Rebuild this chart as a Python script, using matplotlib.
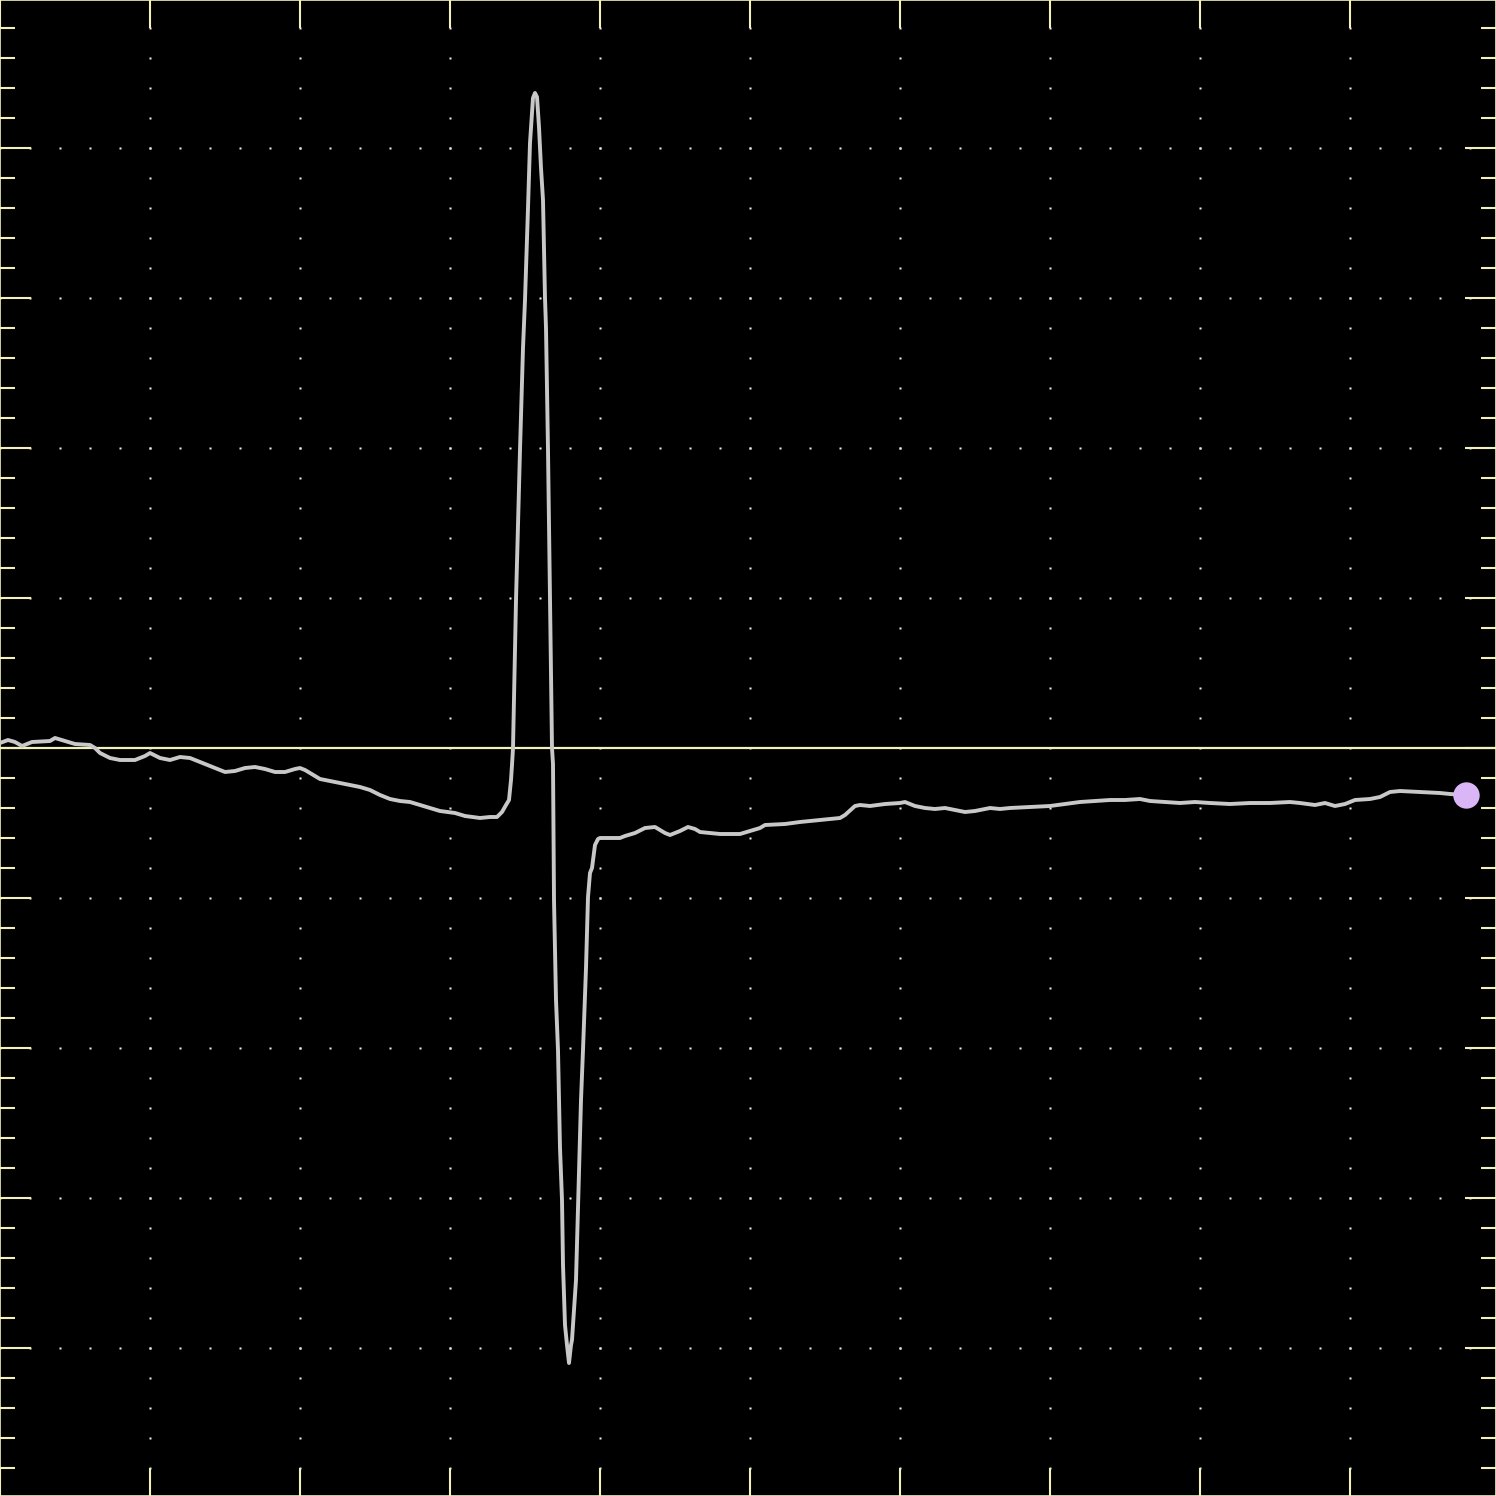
import matplotlib
matplotlib.use("Agg")
import matplotlib.pyplot as plt
import numpy as np
from matplotlib.ticker import MultipleLocator

# trace (time units, signal units; 150 units per division)
t = [0, 8, 15, 22, 32, 50, 55, 65, 75, 90, 95, 100, 110, 120, 135, 145, 150, 160, 170, 180,
     190, 200, 215, 225, 235, 245, 255, 265, 275, 285, 295, 300, 305, 315, 320, 330, 345, 360,
     370, 380, 390, 400, 410, 420, 430, 440, 455, 465, 480, 490, 497, 502, 506, 509, 511, 512,
     513, 516, 520, 523, 525, 528, 530, 533, 535, 537, 539, 541, 543, 545, 546, 548, 550, 552,
     553, 554, 556, 558, 560, 562, 563, 565, 567, 569, 571, 572, 573, 576, 578, 579, 581, 583,
     586, 588, 590, 592, 595, 598, 600, 620, 625, 635, 645, 655, 665, 670, 680, 688, 695, 700,
     710, 720, 740, 750, 760, 765, 785, 800, 810, 820, 840, 845, 855, 860, 870, 885, 900, 905,
     915, 925, 935, 945, 955, 965, 975, 990, 1000, 1010, 1030, 1050, 1065, 1080, 1095, 1110,
     1125, 1140, 1150, 1165, 1180, 1195, 1210, 1230, 1250, 1270, 1290, 1300, 1315, 1325, 1335,
     1345, 1355, 1370, 1380, 1390, 1400, 1420, 1440, 1450, 1466]
v = [5, 8, 6, 2, 6, 7, 10, 7, 4, 3, 0, -5, -10, -12, -12, -8, -5, -10, -12, -9,
     -10, -14, -20, -24, -23, -20, -19, -21, -24, -24, -21, -20, -22, -28, -31, -33, -36, -39,
     -42, -47, -51, -53, -54, -57, -60, -63, -65, -68, -70, -69, -69, -64, -57, -52, -32, -17,
     0, 148, 298, 400, 448, 540, 605, 650, 655, 651, 621, 580, 548, 450, 420, 298, 148, 0,
     -16, -152, -252, -302, -400, -452, -517, -577, -597, -615, -597, -592, -577, -532, -460, -420, -352, -302,
     -220, -149, -125, -120, -97, -91, -90, -90, -88, -85, -80, -79, -85, -87, -83, -79, -81, -84,
     -85, -86, -86, -83, -80, -77, -76, -74, -73, -72, -70, -67, -58, -57, -58, -56, -55, -54,
     -58, -60, -61, -60, -62, -64, -63, -60, -61, -60, -59, -58, -56, -54, -53, -52,
     -52, -51, -53, -54, -55, -54, -55, -56, -55, -55, -54, -55, -57, -55, -58,
     -56, -52, -51, -49, -44, -43, -44, -45, -46, -47]

fig = plt.figure(figsize=(14.96, 14.96), dpi=100, facecolor="black")
ax = fig.add_axes([0, 0, 1, 1])
ax.set_facecolor("black")
ax.set_xlim(0, 1496)
ax.set_ylim(-748, 748)

yellow = "#f4f0bc"

# dotted graticule: dots every minor step along every major line
div = 150
minor = 30
xs_major = np.arange(150, 1496, div)
ys_major = np.arange(-600, 601, div)
xs_minor = np.arange(0, 1496, minor)
ys_minor = np.arange(-720, 721, minor)
gx, gy = [], []
for xm in xs_major:
    for ym in ys_minor:
        gx.append(xm); gy.append(ym)
for ym in ys_major:
    if ym == 0:
        continue
    for xm in xs_minor:
        gx.append(xm); gy.append(ym)
ax.plot(gx, gy, ls="none", marker="s", ms=2.0, mec="none", mfc="#f0f0f0", zorder=1)

# center reference line
ax.axhline(0, color=yellow, lw=1.6, zorder=2)

# trace
ax.plot(t, v, color="#c8c8c8", lw=2.8, zorder=3)
ax.plot(t[-1], v[-1], "o", ms=19, color="#dab6f6", mec="none", zorder=4)

# edge ticks
ax.xaxis.set_major_locator(MultipleLocator(div))
ax.yaxis.set_major_locator(MultipleLocator(div))
ax.yaxis.set_minor_locator(MultipleLocator(minor))
ax.tick_params(axis="x", which="major", direction="in", length=20, width=1.5,
               color=yellow, top=True, bottom=True, labelbottom=False)
ax.tick_params(axis="y", which="major", direction="in", length=22, width=1.5,
               color=yellow, left=True, right=True, labelleft=False)
ax.tick_params(axis="y", which="minor", direction="in", length=11, width=1.5,
               color=yellow, left=True, right=True)
for s in ax.spines.values():
    s.set_color(yellow)
    s.set_linewidth(1.2)

plt.savefig("out.png", dpi=100, facecolor="black")
